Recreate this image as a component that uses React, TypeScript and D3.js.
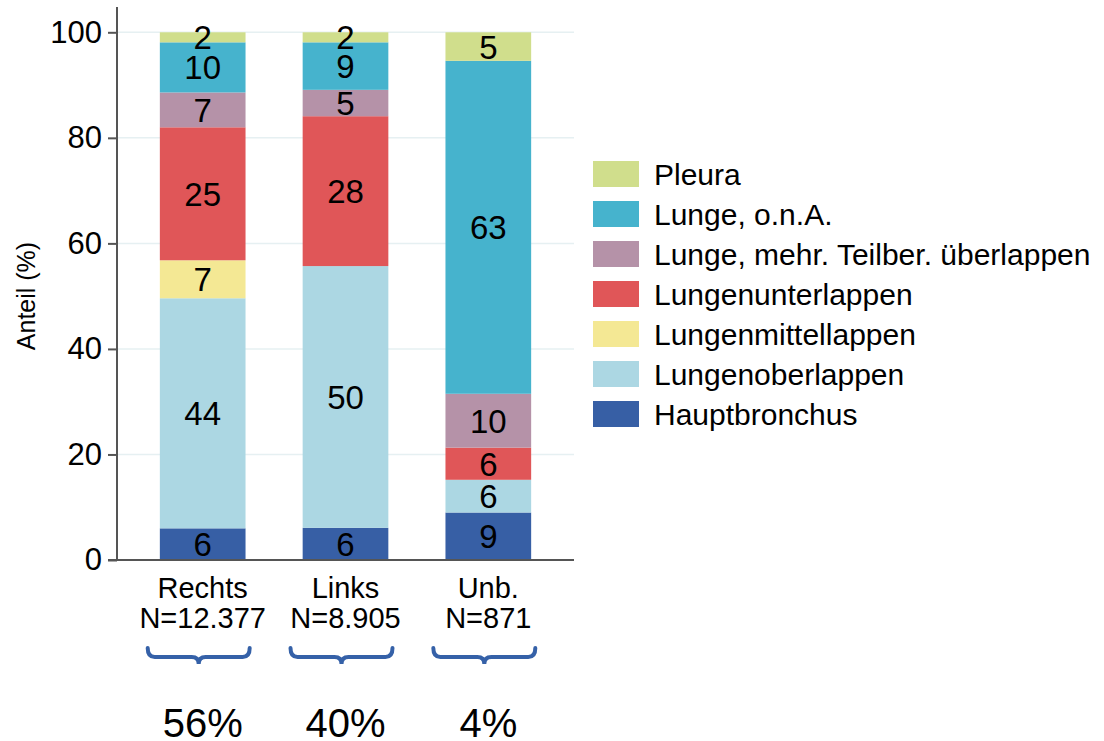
import React, { useEffect, useRef } from 'react';
import * as d3 from 'd3';

const categories = ['Rechts', 'Links', 'Unb.'];
const nLabels = ['N=12.377', 'N=8.905', 'N=871'];
const shares = ['56%', '40%', '4%'];

// bottom to top
const seriesNames = [
  'Hauptbronchus',
  'Lungenoberlappen',
  'Lungenmittellappen',
  'Lungenunterlappen',
  'Lunge, mehr. Teilber. überlappen',
  'Lunge, o.n.A.',
  'Pleura',
];
const seriesColors = ['#375fa5', '#acd7e3', '#f4e894', '#e05658', '#b592a8', '#46b3cd', '#d0de8c'];

const hauptbronchus = [6.0, 6.1, 9.0];
const oberlappen = [43.6, 49.6, 6.2];
const mittellappen = [7.2, 0, 0];
const unterlappen = [25.2, 28.4, 6.1];
const mehrTeilber = [6.6, 5.0, 10.2];
const lungeONA = [9.5, 9.0, 63.1];
const pleura = [1.9, 1.9, 5.4];

const yTicks = [0, 20, 40, 60, 80, 100];

const FONT = '"Liberation Sans", Arial, sans-serif';

export default function App() {
  const svgRef = useRef<SVGSVGElement>(null);

  useEffect(() => {
    if (!svgRef.current) return;
    const svg = d3.select(svgRef.current);
    svg.selectAll('*').remove();

    const values = [hauptbronchus, oberlappen, mittellappen, unterlappen, mehrTeilber, lungeONA, pleura];
    const rows = categories.map((c, i) => {
      const r: any = { cat: c };
      seriesNames.forEach((s, j) => (r[s] = values[j][i]));
      return r;
    });
    const stacked = d3.stack<any>().keys(seriesNames)(rows);

    const x = d3.scaleBand().domain(categories).range([117, 574]).paddingInner(0.4).paddingOuter(0.3);
    const y = d3.scaleLinear().domain([0, 100]).range([560, 32.3]);

    // gridlines
    svg.append('g')
      .selectAll('line')
      .data(yTicks.filter((t) => t > 0))
      .enter()
      .append('line')
      .attr('x1', 117)
      .attr('x2', 574)
      .attr('y1', (d) => y(d))
      .attr('y2', (d) => y(d))
      .attr('stroke', '#e6f0f2')
      .attr('stroke-width', 1.5);

    // bars
    stacked.forEach((layer, j) => {
      svg.append('g')
        .selectAll('rect')
        .data(layer.filter((d) => d[1] - d[0] > 0))
        .enter()
        .append('rect')
        .attr('x', (d: any) => x(d.data.cat)!)
        .attr('width', x.bandwidth())
        .attr('y', (d) => y(d[1]))
        .attr('height', (d) => y(d[0]) - y(d[1]))
        .attr('fill', seriesColors[j]);
    });

    // bar labels
    stacked.forEach((layer) => {
      svg.append('g')
        .selectAll('text')
        .data(layer.filter((d) => d[1] - d[0] > 0))
        .enter()
        .append('text')
        .attr('x', (d: any) => x(d.data.cat)! + x.bandwidth() / 2)
        .attr('y', (d) => (y(d[0]) + y(d[1])) / 2 + 12)
        .attr('text-anchor', 'middle')
        .style('font-family', FONT)
        .style('font-size', '33px')
        .style('fill', '#000')
        .text((d) => String(Math.round(d[1] - d[0])));
    });

    // y axis
    const yAxis = svg.append('g')
      .attr('transform', 'translate(117,0)')
      .call(d3.axisLeft(y).tickValues(yTicks).tickSize(9).tickPadding(6));
    yAxis.select('.domain').attr('d', 'M0,7V560').attr('stroke', '#555').attr('stroke-width', 2);
    yAxis.selectAll('.tick line').attr('stroke', '#555').attr('stroke-width', 2);
    yAxis.selectAll('.tick text')
      .style('font-family', FONT)
      .style('font-size', '31px')
      .style('fill', '#000');

    // x axis line
    svg.append('line')
      .attr('x1', 108)
      .attr('x2', 574)
      .attr('y1', 560)
      .attr('y2', 560)
      .attr('stroke', '#555')
      .attr('stroke-width', 2);

    // y label
    svg.append('text')
      .attr('transform', 'translate(35,296) rotate(-90)')
      .attr('text-anchor', 'middle')
      .style('font-family', FONT)
      .style('font-size', '25px')
      .text('Anteil (%)');

    // x labels
    categories.forEach((c, i) => {
      const cx = x(c)! + x.bandwidth() / 2;
      svg.append('text')
        .attr('x', cx)
        .attr('y', 598)
        .attr('text-anchor', 'middle')
        .style('font-family', FONT)
        .style('font-size', '29px')
        .text(c);
      svg.append('text')
        .attr('x', cx)
        .attr('y', 628)
        .attr('text-anchor', 'middle')
        .style('font-family', FONT)
        .style('font-size', '29px')
        .text(nLabels[i]);

      // brace
      const m = cx - 4;
      const a = m - 51;
      const b = m + 51;
      const yt = 648;
      const yl = 657;
      const tip = 664;
      const r = 7;
      svg.append('path')
        .attr(
          'd',
          `M${a},${yt} Q${a},${yl} ${a + r},${yl} L${m - r},${yl} Q${m},${yl} ${m},${tip} Q${m},${yl} ${m + r},${yl} L${b - r},${yl} Q${b},${yl} ${b},${yt}`
        )
        .attr('fill', 'none')
        .attr('stroke', '#3561a8')
        .attr('stroke-width', 4)
        .attr('stroke-linecap', 'round');

      svg.append('text')
        .attr('x', cx)
        .attr('y', 737)
        .attr('text-anchor', 'middle')
        .style('font-family', FONT)
        .style('font-size', '40px')
        .text(shares[i]);
    });

    // legend (top to bottom)
    const legendOrder = seriesNames.map((s, j) => ({ s, c: seriesColors[j] })).reverse();
    const lg = svg.append('g').attr('transform', 'translate(593,161)');
    legendOrder.forEach((d, i) => {
      lg.append('rect')
        .attr('x', 0)
        .attr('y', i * 40)
        .attr('width', 46)
        .attr('height', 26)
        .attr('fill', d.c);
      lg.append('text')
        .attr('x', 61)
        .attr('y', i * 40 + 24)
        .style('font-family', FONT)
        .style('font-size', '30px')
        .text(d.s);
    });
  }, []);

  return (
    <svg
      ref={svgRef}
      width={1104}
      height={741}
      style={{ position: 'absolute', left: 0, top: 0, background: '#fff' }}
    ></svg>
  );
}
